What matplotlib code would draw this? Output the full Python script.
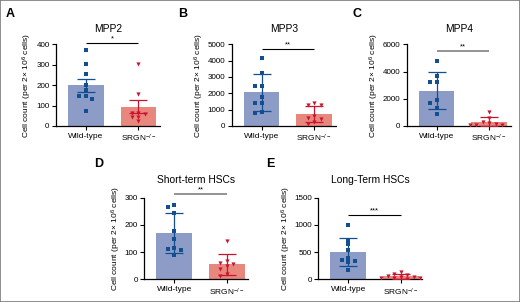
import numpy as np
import matplotlib
matplotlib.use("Agg")
import matplotlib.pyplot as plt
from matplotlib import font_manager
from matplotlib.patches import Rectangle

# values (cells per 2x10^6)
groups = ["Wild-type", "SRGN$^{-/-}$"]

mpp2_wt = [374, 304, 253, 201, 176, 145, 145, 132, 73]
mpp2_ko = [304, 158, 66, 62, 60, 46, 42, 24]
mpp3_wt = [4143, 3245, 2470, 2430, 1755, 1420, 1390, 850, 820]
mpp3_ko = [1400, 1300, 1260, 600, 480, 450, 220, 150]
mpp4_wt = [4800, 3700, 3250, 3200, 1900, 1700, 1350, 850]
mpp4_ko = [1050, 560, 300, 250, 130, 110, 100, 80]
st_wt = [274, 267, 245, 179, 147, 116, 112, 108, 89]
st_ko = [140, 67, 61, 56, 49, 37, 18, 12]
lt_wt = [1000, 725, 645, 540, 385, 360, 330, 310, 180]
lt_ko = [130, 95, 80, 65, 50, 40, 30, 20, 15, 10]

W, H = 520, 302
names = {f.name for f in font_manager.fontManager.ttflist}
base = "Liberation Sans" if "Liberation Sans" in names else "DejaVu Sans"
narrow = "Liberation Sans Narrow" if "Liberation Sans Narrow" in names else base

plt.rcParams["font.family"] = [base, "DejaVu Sans"]
plt.rcParams["mathtext.fontset"] = "custom"
plt.rcParams["mathtext.rm"] = base
plt.rcParams["mathtext.it"] = base
plt.rcParams["mathtext.bf"] = base

WT_BAR, WT_DOT = "#8c9cc7", "#124f90"
KO_BAR, KO_DOT = "#e8877e", "#c8142f"

panels = [
    dict(letter="A", title="MPP2", wt=mpp2_wt, ko=mpp2_ko, ymax=400, ystep=100,
         err="sem", stars="*", sig_y=405, sig_c="black", sig_lw=0.8,
         box=(56, 44.3, 160, 126), lab=(10, 14), ylab_x=27.3, pad=8.5),
    dict(letter="B", title="MPP3", wt=mpp3_wt, ko=mpp3_ko, ymax=5000, ystep=1000,
         err="sd", stars="**", sig_y=4730, sig_c="black", sig_lw=0.8,
         box=(231.7, 44.3, 335.7, 126), lab=(182.7, 14), ylab_x=199, pad=8.5),
    dict(letter="C", title="MPP4", wt=mpp4_wt, ko=mpp4_ko, ymax=6000, ystep=2000,
         err="sd", stars="**", sig_y=5530, sig_c="#808080", sig_lw=1.2,
         box=(406.7, 44.3, 510.7, 126), lab=(356.7, 14), ylab_x=374, pad=8.5),
    dict(letter="D", title="Short-term HSCs", wt=st_wt, ko=st_ko, ymax=300, ystep=100,
         err="sd", stars="**", sig_y=314, sig_c="#808080", sig_lw=1.2,
         box=(144.3, 197.7, 248.3, 279.3), lab=(99, 164), ylab_x=116, pad=10.5),
    dict(letter="E", title="Long-Term HSCs", wt=lt_wt, ko=lt_ko, ymax=1500, ystep=500,
         err="sd", stars="***", sig_y=1182, sig_c="black", sig_lw=0.8,
         box=(318.3, 197.7, 422.3, 279.3), lab=(270, 164), ylab_x=286, pad=10.5),
]

XL = (-0.57, 1.41)
PX_PER_UNIT = 104 / (XL[1] - XL[0])


def swarm(vals, ymax, h_px, step_px=6.5, thr_px=3.8):
    """Prism-like spread: points too close vertically get pushed sideways."""
    order = np.argsort(vals)[::-1]
    ypx = np.asarray(vals, float) / ymax * h_px
    placed = []
    offs = np.zeros(len(vals))
    for i in order:
        for k in [0, -1, 1, -2, 2, -3, 3, -4, 4]:
            ok = all(abs(ypx[i] - ypx[j]) >= thr_px or abs(k - kj) >= 1
                     for j, kj in placed)
            if ok:
                placed.append((i, k))
                offs[i] = k * step_px / PX_PER_UNIT
                break
    return offs


fig = plt.figure(figsize=(W / 100, H / 100), dpi=100)
fig.patches.append(Rectangle((0, 0), 1, 1, transform=fig.transFigure, fill=False,
                             edgecolor="#7a7a7a", linewidth=1.2))

for p in panels:
    l, t, r, b = p["box"]
    ax = fig.add_axes([l / W, 1 - b / H, (r - l) / W, (b - t) / H])
    h_px = b - t
    for xi, vals, bc, dc, mk, ms in [(0, p["wt"], WT_BAR, WT_DOT, "s", 8),
                                      (1, p["ko"], KO_BAR, KO_DOT, "v", 9)]:
        v = np.asarray(vals, float)
        m = v.mean()
        e = v.std(ddof=1)
        if p["err"] == "sem":
            e = e / np.sqrt(len(v))
        ax.bar(xi, m, width=0.68, color=bc, zorder=1)
        ax.errorbar(xi, m, yerr=e, color=dc, capsize=6.3, elinewidth=0.9,
                    capthick=0.9, zorder=3)
        ax.scatter(xi + swarm(v, p["ymax"], h_px), v, marker=mk, s=ms, color=dc,
                   linewidths=0, zorder=4)

    ax.set_xlim(*XL)
    ax.set_ylim(0, p["ymax"])
    ax.set_yticks(np.arange(0, p["ymax"] + 1, p["ystep"]))
    ax.set_xticks([0, 1])
    ax.set_xticklabels(groups, fontsize=6)
    for s in ["top", "right"]:
        ax.spines[s].set_visible(False)
    for s in ["left", "bottom"]:
        ax.spines[s].set_linewidth(0.9)
    ax.tick_params(axis="y", direction="out", length=2.6, width=0.8, pad=2,
                   labelsize=5.8)
    ax.tick_params(axis="x", direction="out", length=2.6, width=0.8, pad=2.5)
    ax.set_title(p["title"], fontsize=7.4, pad=p["pad"])

    ax.plot([0, 1], [p["sig_y"]] * 2, color=p["sig_c"], lw=p["sig_lw"],
            clip_on=False, solid_capstyle="butt")
    ax.text(0.5, p["sig_y"] + p["ymax"] * 0.005, p["stars"], ha="center",
            va="bottom", fontsize=5.5, clip_on=False)

    fig.text(p["ylab_x"] / W, 1 - (t + b) / 2 / H,
             "Cell count (per 2\u00d7 10$^{6}$ cells)", rotation=90,
             ha="center", va="center", fontsize=6, family=[narrow, "DejaVu Sans"])
    fig.text(p["lab"][0] / W, 1 - p["lab"][1] / H, p["letter"], ha="center",
             va="center", fontsize=9, fontweight="bold")

fig.savefig("out.png", dpi=100)
plt.close(fig)
